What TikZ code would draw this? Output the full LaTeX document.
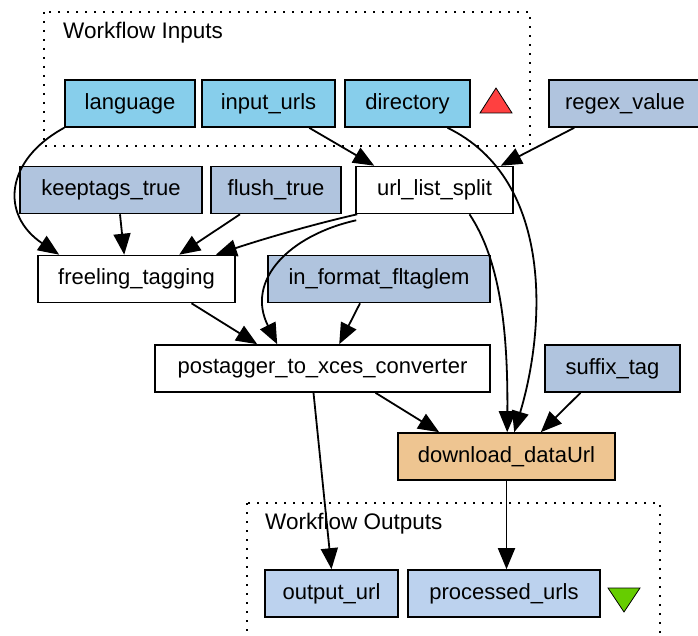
\documentclass[tikz,border=0pt]{standalone}
\usepackage{fontspec}
\setmainfont{Liberation Sans}
\usetikzlibrary{arrows.meta}
\definecolor{inblue}{HTML}{87CEEB}
\definecolor{constblue}{HTML}{B0C4DE}
\definecolor{outblue}{HTML}{BCD2EE}
\definecolor{dlorange}{HTML}{EEC591}
\definecolor{trired}{HTML}{FF4040}
\definecolor{trigreen}{HTML}{66CD00}
\begin{document}
\begin{tikzpicture}[x=1pt,y=-1pt,
  box/.style={draw=black, line width=1.6pt, minimum height=47pt, inner sep=0pt,
    font=\fontsize{22}{26}\selectfont},
  inport/.style={box, fill=inblue},
  constant/.style={box, fill=constblue},
  proc/.style={box, fill=white},
  dlproc/.style={box, fill=dlorange},
  outport/.style={box, fill=outblue},
  cluster/.style={draw=black, line width=1.5pt, dash pattern=on 1.8pt off 7.2pt},
  clabel/.style={anchor=west, inner sep=0pt, font=\fontsize{22.5}{26}\selectfont},
  flow/.style={draw=black, line width=1.8pt, -{Triangle[length=21pt,width=17pt]}},
  tri/.style={draw=black, line width=0.8pt}
]
\useasboundingbox (0,0) rectangle (698,636);

% clusters
\draw[cluster] (44,12) rectangle (530,146);
\node[clabel] (inlabel) at (63,33) {Workflow Inputs};
\draw[cluster] (247,503) rectangle (660,645);
\node[clabel] (outlabel) at (265,524) {Workflow Outputs};

% nodes
\node[inport, minimum width=130pt] (language) at (130,103.5) {language};
\node[inport, minimum width=133pt] (inputurls) at (268.5,103.5) {input\_urls};
\node[inport, minimum width=125pt] (directory) at (407.5,103.5) {directory};
\node[constant, minimum width=152pt] (regex) at (625,103.5) {regex\_value};
\node[constant, minimum width=182pt] (keeptags) at (111,190) {keeptags\_true};
\node[constant, minimum width=130pt] (flush) at (276,190) {flush\_true};
\node[proc, minimum width=157pt] (urlsplit) at (434.5,190) {url\_list\_split};
\node[proc, minimum width=197pt] (freeling) at (136.5,279) {freeling\_tagging};
\node[constant, minimum width=222pt] (informat) at (379,279) {in\_format\_fltaglem};
\node[proc, minimum width=335pt] (postagger) at (322.5,368.5) {postagger\_to\_xces\_converter};
\node[constant, minimum width=135pt] (suffix) at (612.5,368.5) {suffix\_tag};
\node[dlproc, minimum width=217pt] (download) at (506.5,456.5) {download\_dataUrl};
\node[outport, minimum width=133pt] (outputurl) at (331.5,593.5) {output\_url};
\node[outport, minimum width=192pt] (processed) at (504,593.5) {processed\_urls};

% triangles
\draw[tri, fill=trired] (480,113) -- (512,113) -- (496,88) -- cycle;
\draw[tri, fill=trigreen] (608,588) -- (640,588) -- (624,612) -- cycle;

% edges
\draw[flow] (language.south west) .. controls (5,160) and (0,215) .. ([xshift=22pt]freeling.north west);
\draw[flow] ([xshift=9pt]keeptags.south) -- ([xshift=87pt]freeling.north west);
\draw[flow] ([xshift=-36pt]flush.south) -- ([xshift=142pt]freeling.north west);
\draw[flow] ([xshift=2pt]urlsplit.south west) .. controls (310,225) and (260,240) .. ([xshift=-20pt]freeling.north east);
\draw[flow] ([xshift=108pt]inputurls.south west) -- ([xshift=19pt]urlsplit.north west);
\draw[flow] ([xshift=26pt]regex.south west) -- ([xshift=-13pt]urlsplit.north east);
\draw[flow] ([xshift=1pt,yshift=-6pt]urlsplit.south west) .. controls (290,235) and (245,280) .. ([xshift=123pt]postagger.north west);
\draw[flow] ([xshift=55pt]freeling.south) -- ([xshift=103pt]postagger.north west);
\draw[flow] ([xshift=-19pt]informat.south) -- ([xshift=185pt]postagger.north west);
\draw[flow] ([xshift=53pt]postagger.south) -- ([xshift=42pt]download.north west);
\draw[flow] ([xshift=35pt]urlsplit.south) .. controls (500,260) and (508,330) .. ([xshift=110pt]download.north west);
\draw[flow] ([xshift=40pt]directory.south) .. controls (555,180) and (545,330) .. ([xshift=117pt]download.north west);
\draw[flow] ([xshift=-32pt]suffix.south) -- ([xshift=-75pt]download.north east);
\draw[flow] ([xshift=-9pt]postagger.south) -- (outputurl.north);
\draw[flow] (download.south) -- (download.south |- processed.north);
\end{tikzpicture}
\end{document}
